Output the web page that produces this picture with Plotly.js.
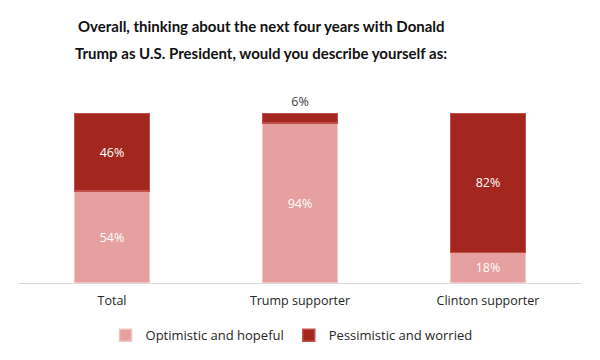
<!DOCTYPE html>
<html><head><meta charset="utf-8">
<script src="https://cdn.plot.ly/plotly-3.0.1.min.js"></script>
<style>body{margin:0;background:#fff}#c{width:600px;height:360px}</style>
</head><body><div id="c"></div>
<script>
var categories = ["Total", "Trump supporter", "Clinton supporter"];
var optimistic = [54, 94, 18];
var pessimistic = [46, 6, 82];
var seriesNames = ["Optimistic and hopeful", "Pessimistic and worried"];
var titleLines = ["Overall, thinking about the next four years with Donald",
                  "Trump as U.S. President, would you describe yourself as:"];

var pct = function(a){ return a.map(function(v){ return v + "%"; }); };

var traces = [
  {
    type: "bar", name: seriesNames[0], x: categories, y: optimistic,
    text: pct(optimistic), textposition: "inside", insidetextanchor: "middle",
    textfont: {color: "#ffffff", size: 12.5, family: "Open Sans, sans-serif"},
    marker: {color: "#E6A0A0", line: {color: "#F2C4C4", width: 1.5}},
    hoverinfo: "none"
  },
  {
    type: "bar", name: seriesNames[1], x: categories, y: pessimistic,
    text: pct(pessimistic), textposition: ["inside", "outside", "inside"], insidetextanchor: "middle",
    textfont: {color: ["#ffffff", "#404040", "#ffffff"], size: 12.5, family: "Open Sans, sans-serif"},
    marker: {color: "#A3261F", line: {color: "#C0504A", width: 1.5}},
    cliponaxis: false, hoverinfo: "none"
  }
];

var titleFont = {family: "Lato, sans-serif", size: 15, color: "#111111"};

var layout = {
  width: 600, height: 360,
  margin: {l: 18, r: 18, t: 113, b: 77, autoexpand: false},
  paper_bgcolor: "#ffffff", plot_bgcolor: "#ffffff",
  barmode: "stack", bargap: 0.6,
  annotations: [
    {text: "<b>" + titleLines[0] + "</b>", xref: "paper", yref: "paper", x: 0.431, y: 1 + (113 - 26) / 170,
     xanchor: "center", yanchor: "middle", showarrow: false, font: titleFont},
    {text: "<b>" + titleLines[1] + "</b>", xref: "paper", yref: "paper", x: 0.431, y: 1 + (113 - 53) / 170,
     xanchor: "center", yanchor: "middle", showarrow: false, font: titleFont}
  ],
  xaxis: {
    showline: true, linecolor: "#D9D9D9", linewidth: 1,
    ticks: "outside", ticklen: 6, tickcolor: "rgba(0,0,0,0)",
    tickfont: {family: "Open Sans, sans-serif", size: 12.5, color: "#262626"},
    showgrid: false, fixedrange: true
  },
  yaxis: {range: [0, 100], visible: false, showgrid: false, zeroline: false, fixedrange: true},
  showlegend: true,
  legend: {
    orientation: "h", x: 0.485, xanchor: "center", y: -0.22, yanchor: "top",
    font: {family: "Open Sans, sans-serif", size: 13, color: "#262626"},
    itemwidth: 30, traceorder: "normal"
  }
};

Plotly.newPlot("c", traces, layout, {staticPlot: true, displayModeBar: false});
</script>
</body></html>
